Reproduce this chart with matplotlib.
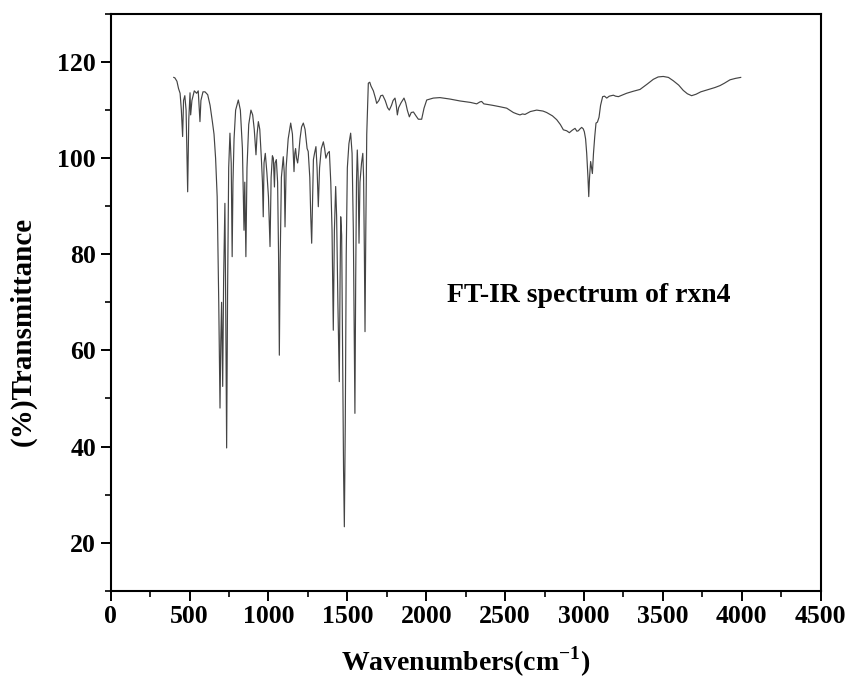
import matplotlib
matplotlib.use("Agg")
import matplotlib.pyplot as plt
from matplotlib.ticker import MultipleLocator

wavenumber = [
    400, 407, 420, 430, 440, 448, 456, 462, 470, 478, 488, 495, 503, 507, 515, 530, 545, 555, 560, 566,
    572, 585, 598, 615, 630, 645, 655, 665, 675, 685, 693, 698, 703, 710, 716, 724, 729, 735, 741, 748,
    756, 764, 770, 775, 782, 792, 809, 822, 835, 845, 850, 857, 864, 875, 889, 900, 910, 921, 928, 936,
    945, 955, 962, 967, 972, 980, 990, 1000, 1010, 1017, 1025, 1031, 1038, 1042, 1050, 1058, 1064, 1069, 1074, 1082,
    1094, 1100, 1105, 1112, 1125, 1141, 1152, 1158, 1162, 1167, 1172, 1178, 1185, 1192, 1200, 1210, 1221, 1232, 1245, 1252,
    1262, 1268, 1274, 1280, 1285, 1292, 1301, 1308, 1316, 1324, 1335, 1348, 1356, 1364, 1375, 1386, 1395, 1403, 1411, 1418,
    1426, 1432, 1440, 1449, 1454, 1458, 1464, 1470, 1476, 1481, 1487, 1493, 1500, 1510, 1521, 1530, 1538, 1543, 1548, 1553,
    1558, 1563, 1568, 1574, 1580, 1590, 1598, 1603, 1608, 1612, 1617, 1623, 1633, 1642, 1650, 1665, 1678, 1686, 1700, 1712,
    1724, 1740, 1755, 1766, 1780, 1790, 1802, 1810, 1817, 1825, 1840, 1859, 1870, 1880, 1893, 1905, 1919, 1935, 1950, 1971,
    1986, 2003, 2045, 2087, 2150, 2214, 2280, 2320, 2340, 2351, 2365, 2420, 2467, 2510, 2552, 2575, 2594, 2610, 2626, 2660,
    2700, 2740, 2763, 2800, 2827, 2850, 2869, 2890, 2907, 2925, 2943, 2955, 2964, 2975, 2985, 2995, 3002, 3010, 3017, 3025,
    3030, 3035, 3042, 3048, 3053, 3060, 3068, 3076, 3085, 3095, 3105, 3118, 3130, 3144, 3160, 3186, 3200, 3218, 3240, 3270,
    3310, 3355, 3400, 3439, 3470, 3502, 3535, 3566, 3600, 3629, 3655, 3682, 3710, 3740, 3770, 3800, 3830, 3862, 3890, 3925,
    3960, 3993,
]
transmittance = [
    116.8, 116.7, 116.0, 114.5, 113.5, 110.0, 104.5, 112.0, 113.0, 110.0, 93.0, 108.0, 113.6, 109.0, 112.0, 114.0, 113.5, 114.0, 111.0, 107.6,
    112.0, 113.8, 113.8, 113.2, 111.0, 107.5, 105.0, 100.0, 92.0, 70.0, 48.0, 62.0, 70.0, 52.5, 75.0, 90.6, 70.0, 39.7, 72.0, 98.0,
    105.2, 99.0, 79.5, 94.8, 104.0, 110.0, 112.1, 110.0, 102.0, 85.0, 95.0, 79.5, 98.0, 107.0, 110.0, 109.0, 106.0, 100.7, 105.0, 107.6,
    106.0, 100.0, 95.0, 87.8, 99.0, 101.0, 97.0, 92.0, 81.6, 96.0, 100.5, 100.0, 94.0, 99.0, 99.7, 95.0, 80.0, 59.0, 78.0, 96.0,
    100.3, 97.0, 85.7, 98.0, 104.0, 107.3, 105.0, 100.0, 97.2, 101.0, 102.0, 100.0, 99.0, 101.0, 104.0, 106.5, 107.3, 106.0, 102.0, 101.4,
    96.0, 88.0, 82.3, 92.0, 99.7, 101.0, 102.4, 98.0, 89.9, 98.0, 102.0, 103.4, 102.0, 100.0, 101.0, 101.4, 95.0, 85.0, 64.2, 85.0,
    94.1, 88.0, 70.0, 53.5, 75.0, 87.8, 84.0, 60.0, 35.0, 23.3, 45.0, 80.0, 98.0, 103.0, 105.2, 101.0, 85.0, 65.0, 46.9, 75.0,
    95.0, 101.7, 97.0, 82.3, 95.0, 99.0, 101.0, 96.0, 80.0, 63.9, 85.0, 105.0, 115.6, 115.8, 115.0, 114.0, 112.5, 111.4, 112.0, 113.0,
    113.1, 112.0, 110.5, 110.0, 111.0, 112.0, 112.5, 111.0, 109.0, 110.5, 111.5, 112.5, 111.5, 110.0, 108.6, 109.5, 109.6, 108.8, 108.1, 108.1,
    110.4, 112.1, 112.5, 112.6, 112.3, 111.9, 111.6, 111.3, 111.7, 111.8, 111.3, 111.0, 110.7, 110.4, 109.5, 109.2, 109.0, 109.2, 109.1, 109.7,
    110.0, 109.8, 109.5, 108.8, 108.0, 107.0, 105.9, 105.7, 105.3, 105.8, 106.2, 105.6, 105.7, 106.1, 106.4, 106.1, 105.5, 104.0, 101.0, 96.0,
    92.0, 96.0, 99.3, 98.0, 96.8, 101.0, 104.5, 107.3, 107.5, 108.5, 111.0, 112.8, 112.9, 112.5, 112.9, 113.1, 112.9, 112.8, 113.1, 113.5,
    113.9, 114.3, 115.4, 116.4, 116.9, 117.0, 116.8, 116.1, 115.2, 114.1, 113.4, 113.0, 113.3, 113.8, 114.1, 114.4, 114.7, 115.1, 115.6, 116.3,
    116.6, 116.8,
]

x_ticks = [0, 500, 1000, 1500, 2000, 2500, 3000, 3500, 4000, 4500]
y_ticks = [20, 40, 60, 80, 100, 120]
annotation = "FT-IR spectrum of rxn4"

plt.rcParams["font.family"] = ["Liberation Serif", "DejaVu Serif"]
plt.rcParams["font.weight"] = "bold"
plt.rcParams["mathtext.fontset"] = "custom"
plt.rcParams["mathtext.rm"] = "Liberation Serif:bold"
plt.rcParams["mathtext.bf"] = "Liberation Serif:bold"

fig = plt.figure(figsize=(8.48, 6.82), dpi=100)
ax = fig.add_axes([0.1305, 0.1339, 0.8373, 0.8456])

ax.plot(wavenumber, transmittance, color="#444444", lw=0.85)

ax.set_xlim(0, 4500)
ax.set_ylim(10, 130)
ax.set_xticks(x_ticks)
ax.set_yticks(y_ticks)
ax.xaxis.set_minor_locator(MultipleLocator(250))
ax.yaxis.set_minor_locator(MultipleLocator(10))
ax.tick_params(which="major", direction="out", length=7, width=1.4, labelsize=18.5, top=False, right=False)
ax.tick_params(which="minor", direction="out", length=4, width=1.2, top=False, right=False)
for lab in ax.get_xticklabels() + ax.get_yticklabels():
    lab.set_fontweight("bold")
for s in ax.spines.values():
    s.set_linewidth(1.5)

ax.set_xlabel(r"Wavenumbers(cm$^{\mathbf{-1}}$)", fontsize=20, fontweight="bold", labelpad=12)
ax.set_ylabel("(%)Transmittance", fontsize=21, fontweight="bold")
ax.yaxis.set_label_coords(-0.104, 0.45)
ax.text(2130, 71.5, annotation, fontsize=20, fontweight="bold", ha="left", va="center")

fig.savefig("out.png", dpi=100)
